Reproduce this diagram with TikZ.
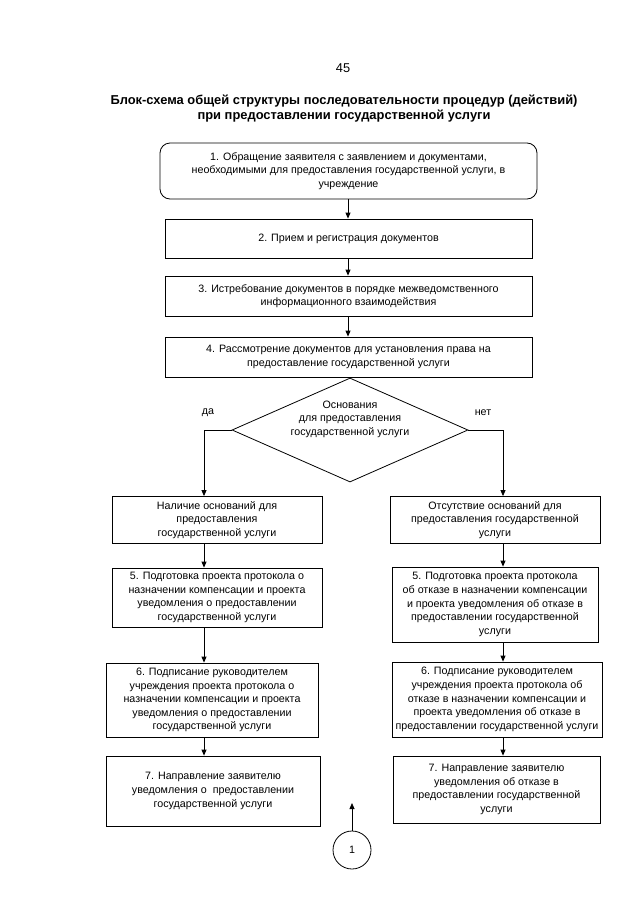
\documentclass[tikz,border=0pt]{standalone}
\usepackage{fontspec}
\setmainfont{Liberation Sans}
\usetikzlibrary{shapes.geometric,arrows.meta}
\begin{document}
\begin{tikzpicture}[x=1pt,y=-1pt,
  box/.style={draw, line width=0.8pt, align=center, inner sep=0pt,
    font=\fontsize{10.7}{13.6}\selectfont},
  arr/.style={-{Triangle[length=6pt,width=5pt]}, line width=0.8pt},
  lbl/.style={font=\fontsize{10.7}{13.6}\selectfont, inner sep=0pt}]
\useasboundingbox (0,0) rectangle (640,905);
\node[font=\fontsize{12.8}{14}\selectfont] (pnum) at (343,68) {45};
\node[align=center, font=\bfseries\fontsize{12.9}{15}\selectfont] (title) at (344,108.5)
  {Блок-схема общей структуры последовательности процедур (действий)\\
   при предоставлении государственной услуги};
% main column
\node[box, rounded corners=10pt, minimum width=377, minimum height=56] (b1) at (348.5,171)
  {1. Обращение заявителя с заявлением и документами,\\
   необходимыми для предоставления государственной услуги, в\\
   учреждение};
\node[box, minimum width=367, minimum height=39] (b2) at (348.5,238.5)
  {2. Прием и регистрация документов};
\node[box, minimum width=367, minimum height=40] (b3) at (348.5,296)
  {3. Истребование документов в порядке межведомственного\\
   информационного взаимодействия};
\node[box, minimum width=367, minimum height=40] (b4) at (348.5,357)
  {4. Рассмотрение документов для установления права на\\
   предоставление государственной услуги};
\node[draw, diamond, line width=0.8pt, minimum width=236, minimum height=104, inner sep=0pt] (dec) at (350,430) {};
\node[lbl, align=center] (dectext) at (350,419)
  {Основания\\ для предоставления\\ государственной услуги};
\node[lbl] (yes) at (208,413) {да};
\node[lbl] (no) at (483,413) {нет};
% left column
\node[box, minimum width=210, minimum height=47] (lyes) at (217,520)
  {Наличие оснований для\\ предоставления\\ государственной услуги};
\node[box, minimum width=210, minimum height=59] (l5) at (217,597.5)
  {5. Подготовка проекта протокола о\\ назначении компенсации и проекта\\
   уведомления о предоставлении\\ государственной услуги};
\node[box, minimum width=212, minimum height=74] (l6) at (212,700)
  {6. Подписание руководителем\\ учреждения проекта протокола о\\
   назначении компенсации и проекта\\ уведомления о предоставлении\\
   государственной услуги};
\node[box, minimum width=214, minimum height=70] (l7) at (213,791)
  {7. Направление заявителю\\ уведомления о\ \ предоставлении\\ государственной услуги};
% right column
\node[box, minimum width=210, minimum height=47] (rno) at (495,520)
  {Отсутствие оснований для\\ предоставления государственной\\ услуги};
\node[box, minimum width=206, minimum height=75] (r5) at (495,604.5)
  {5. Подготовка проекта протокола\\ об отказе в назначении компенсации\\
   и проекта уведомления об отказе в\\ предоставлении государственной\\ услуги};
\node[box, minimum width=210, minimum height=75] (r6) at (497,699.5)
  {6. Подписание руководителем\\ учреждения проекта протокола об\\
   отказе в назначении компенсации и\\ проекта уведомления об отказе в\\
   предоставлении государственной услуги};
\node[box, minimum width=207, minimum height=67] (r7) at (496.5,789.5)
  {7. Направление заявителю\\ уведомления об отказе в\\ предоставлении государственной\\ услуги};
% connector circle
\node[draw, circle, line width=0.8pt, minimum size=38, inner sep=0pt,
  font=\fontsize{10.7}{12}\selectfont] (c1) at (352,850) {1};
\coordinate (ctop) at (352,803);
\coordinate (lx) at (204,0);
\coordinate (rx) at (503,0);
% connectors
\draw[arr] (b1.south -| 348,0) -- (b2.north -| 348,0);
\draw[arr] (b2.south -| 348,0) -- (b3.north -| 348,0);
\draw[arr] (b3.south -| 348,0) -- (b4.north -| 348,0);
\draw[arr] (dec.west) -| (lyes.north -| lx);
\draw[arr] (dec.east) -| (rno.north -| rx);
\draw[arr] (lyes.south -| lx) -- (l5.north -| lx);
\draw[arr] (l5.south -| lx) -- (l6.north -| lx);
\draw[arr] (l6.south -| lx) -- (l7.north -| lx);
\draw[arr] (rno.south -| rx) -- (r5.north -| rx);
\draw[arr] (r5.south -| rx) -- (r6.north -| rx);
\draw[arr] (r6.south -| rx) -- (r7.north -| rx);
\draw[arr] (c1.north) -- (ctop);
\end{tikzpicture}
\end{document}
